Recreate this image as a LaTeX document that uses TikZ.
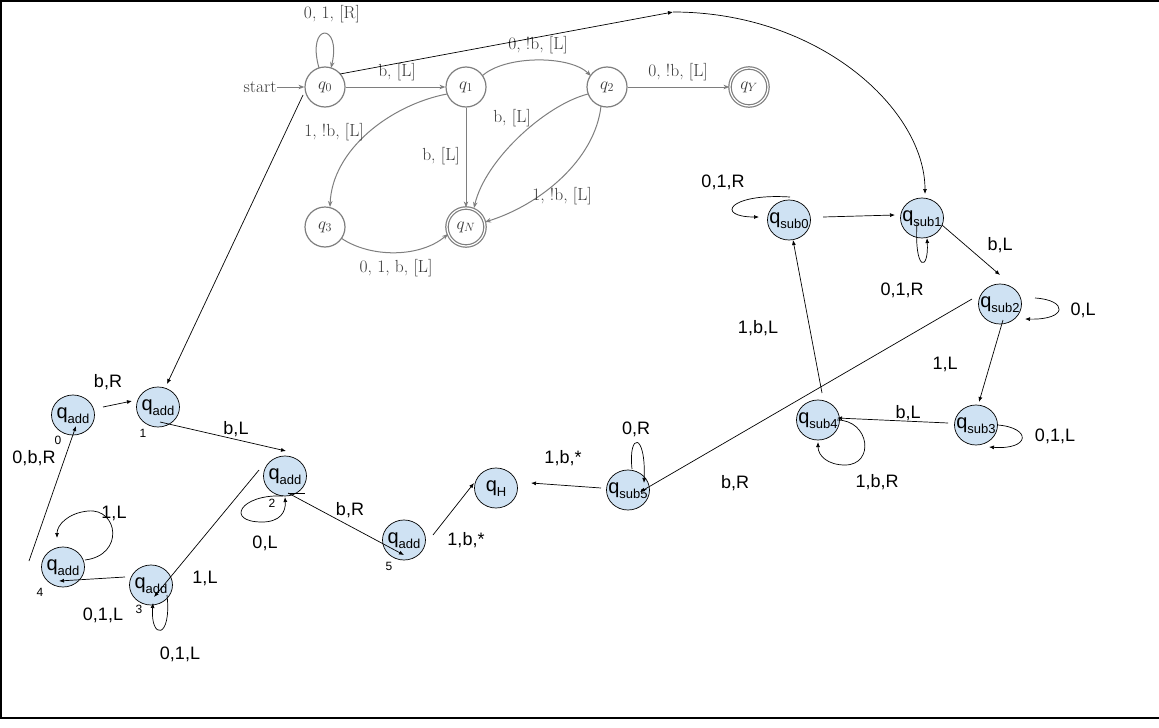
\documentclass[tikz,border=0pt]{standalone}
\usepackage{fontspec}
\newfontfamily\arial{Liberation Sans}
\usetikzlibrary{arrows.meta,calc,shapes.geometric}
\definecolor{nodeblue}{HTML}{CFE2F3}
\definecolor{tgray}{HTML}{7E7E7E}
\definecolor{ttext}{HTML}{383838}
\newcommand\qlab[1]{\makebox[0pt]{\smash{\raisebox{-3pt}{\arial\fontsize{20}{20}\selectfont q\raisebox{-5pt}{\fontsize{13}{13}\selectfont #1}}}}}
\begin{document}
\begin{tikzpicture}[x=1pt,y=-1pt,
 tstate/.style={circle,draw=tgray,line width=1.2pt,minimum size=40pt,inner sep=0pt,text=ttext,font=\fontsize{17.5}{19}\selectfont},
 tacc/.style={tstate,double=white,double distance=1.2pt,minimum size=38pt},
 tedge/.style={draw=tgray,line width=1pt,-{Stealth[length=6pt,width=4.5pt]}},
 tlab/.style={text=ttext,font=\fontsize{17.5}{19}\selectfont,inner sep=0pt},
 bstate/.style={ellipse,draw=black,line width=0.7pt,fill=nodeblue,minimum width=43pt,minimum height=40pt,inner sep=0pt},
 barr/.style={draw=black,line width=0.7pt,-{Latex[length=5pt,width=4pt]}},
 blab/.style={font=\arial\fontsize{18}{18}\selectfont,inner sep=0pt},
 bnum/.style={font=\arial\fontsize{12}{12}\selectfont,inner sep=0pt}
]
\useasboundingbox (0,0) rectangle (1159,728);
\draw[line width=1.6pt] (1159,1) -- (1,1) -- (1,718) -- (1159,718);

% ---------- top automaton ----------
\node[tstate] (q0) at (325,87) {$q_0$};
\node[tstate] (q1) at (466,87) {$q_1$};
\node[tstate] (q2) at (607,87) {$q_2$};
\node[tacc] (qY) at (749,87) {$q_Y$};
\node[tstate] (q3) at (325,227) {$q_3$};
\node[tacc] (qN) at (466,227) {$q_N$};
\node[tlab] (start) at (260,87) {start};

\draw[tedge] (start) -- (q0);
\draw[tedge] ($(q0)+(-6,-19)$) .. controls (306,22) and (342,22) .. ($(q0)+(6,-19)$);
\draw[tedge] (q0) -- (q1);
\draw[tedge] ($(q1)+(16,-11)$) .. controls (505,55) and (570,55) .. ($(q2)+(-16,-11)$);
\draw[tedge] (q2) -- (qY);
\draw[tedge] ($(q1)+(-19,7)$) .. controls (390,105) and (332,150) .. ($(q3)+(5,-20)$);
\draw[tedge] (q1) -- (qN);
\draw[tedge] ($(q2)+(-19,7)$) .. controls (545,105) and (485,160) .. ($(qN)+(8,-19)$);
\draw[tedge] ($(q2)+(-6,19)$) .. controls (595,160) and (540,205) .. ($(qN)+(19,-5)$);
\draw[tedge] ($(q3)+(16,11)$) .. controls (370,258) and (420,258) .. ($(qN)+(-18,7)$);

\node[tlab] (t1) at (332,14) {0, 1, [R]};
\node[tlab] (t2) at (397,72) {b, [L]};
\node[tlab] (t3) at (538,45) {0, !b, [L]};
\node[tlab] (t4) at (678,72) {0, !b, [L]};
\node[tlab] (t5) at (334,132) {1, !b, [L]};
\node[tlab] (t6) at (441,156) {b, [L]};
\node[tlab] (t7) at (512,118) {b, [L]};
\node[tlab] (t8) at (562,196) {1, !b, [L]};
\node[tlab] (t9) at (396,268) {0, 1, b, [L]};

% ---------- bottom machine ----------
\node[bstate] (qadd0) at (73,415) {\qlab{add}};
\node[bstate] (qadd1) at (158,407) {\qlab{add}};
\node[bstate] (qadd2) at (285,476) {\qlab{add}};
\node[bstate] (qadd3) at (151,585) {\qlab{add}};
\node[bstate] (qadd4) at (63,567) {\qlab{add}};
\node[bstate] (qadd5) at (404,540) {\qlab{add}};
\node[bstate] (qH) at (496,488) {\qlab{H}};
\node[bstate] (qsub5) at (628,490) {\qlab{sub5}};
\node[bstate] (qsub4) at (818,420) {\qlab{sub4}};
\node[bstate] (qsub3) at (976,425) {\qlab{sub3}};
\node[bstate] (qsub2) at (1000,304) {\qlab{sub2}};
\node[bstate] (qsub1) at (922,218) {\qlab{sub1}};
\node[bstate] (qsub0) at (789,220) {\qlab{sub0}};

\node[bnum] (n0) at (58,440) {0};
\node[bnum] (n1) at (143,433) {1};
\node[bnum] (n2) at (272,503) {2};
\node[bnum] (n3) at (139,609) {3};
\node[bnum] (n4) at (40,592) {4};
\node[bnum] (n5) at (389,566) {5};

\draw[barr] ($(qadd0)+(30,-8)$) -- ($(qadd1)+(-26,-6)$);
\draw[barr] ($(qadd1)+(2,15)$) -- ($(qadd2)+(1,-25)$);
\draw[barr] ($(q0)+(-22,8)$) -- ($(qadd1)+(9,-23)$);
\draw[barr] ($(qadd2)+(-2,20)$) .. controls (240,494) and (225,522) .. (262,522) .. controls (280,522) and (286,512) .. ($(qadd2)+(0,21)$);
\draw[barr] ($(qadd2)+(-26,-6)$) -- ($(qadd3)+(3,12)$);
\draw[barr] ($(qadd2)+(3,17)$) -- ($(qadd5)+(0,15)$);
\draw[line width=0.7pt] ($(qadd2)+(3,17)$) -- ($(qadd2)+(20,17)$);
\draw[barr] ($(qadd3)+(16,10)$) .. controls (172,640) and (150,640) .. ($(qadd3)+(2,18)$);
\draw[barr] ($(qadd3)+(-26,-8)$) -- ($(qadd4)+(-4,14)$);
\draw[barr] ($(qadd4)+(22,-7)$) .. controls (125,555) and (118,508) .. (88,511) .. controls (68,513) and (57,525) .. ($(qadd4)+(-6,-29)$);
\draw[barr] ($(qadd4)+(-34,-6)$) -- ($(qadd0)+(3,11)$);
\draw[barr] ($(qadd5)+(29,-5)$) -- ($(qH)+(-22,-5)$);
\draw[barr] ($(qsub5)+(-27,-2)$) -- ($(qH)+(35,-5)$);
\draw[barr] ($(qsub5)+(4,-21)$) .. controls (628,432) and (646,432) .. ($(qsub5)+(16,-7)$);
\draw[barr] ($(qsub2)+(-28,-5)$) -- ($(qsub5)+(12,2)$);
\draw[barr] ($(qsub4)+(19,0)$) .. controls (870,420) and (875,465) .. (845,465) .. controls (828,465) and (818,456) .. ($(qsub4)+(0,22)$);
\draw[barr] ($(qsub4)+(4,-27)$) -- ($(qsub0)+(4,20)$);
\draw[barr] ($(qsub3)+(-28,-2)$) -- ($(qsub4)+(19,-2)$);
\draw[barr] ($(qsub3)+(22,0)$) .. controls (1032,428) and (1030,450) .. ($(qsub3)+(13,22)$);
\draw[barr] ($(qsub2)+(3,16)$) -- ($(qsub3)+(3,-23)$);
\draw[barr] ($(qsub2)+(35,-6)$) .. controls (1068,300) and (1068,320) .. ($(qsub2)+(25,15)$);
\draw[barr] ($(qsub1)+(20,7)$) -- ($(qsub2)+(0,-29)$);
\draw[barr] ($(qsub1)+(-5,5)$) .. controls (914,272) and (929,272) .. ($(qsub1)+(5,20)$);
\draw[barr] ($(qsub0)+(34,-3)$) -- ($(qsub1)+(-27,-3)$);
\draw[barr] ($(qsub0)+(1,-23)$) .. controls (728,193) and (715,217) .. ($(qsub0)+(-30,-3)$);
\coordinate (top) at (673,12);
\draw[barr] ($(q0)+(15,-13)$) -- (top);
\draw[barr] (top) .. controls (820,12) and (925,110) .. ($(qsub1)+(3,-24)$);

\node[blab] (l1) at (108,382) {b,R};
\node[blab] (l2) at (236,429) {b,L};
\node[blab] (l3) at (34,458) {0,b,R};
\node[blab] (l4) at (114,513) {1,L};
\node[blab] (l5) at (265,543) {0,L};
\node[blab] (l6) at (205,578) {1,L};
\node[blab] (l7) at (103,615) {0,1,L};
\node[blab] (l8) at (180,654) {0,1,L};
\node[blab] (l9) at (350,510) {b,R};
\node[blab] (l10) at (466,540) {1,b,*};
\node[blab] (l11) at (563,458) {1,b,*};
\node[blab] (l12) at (636,429) {0,R};
\node[blab] (l13) at (735,483) {b,R};
\node[blab] (l14) at (877,482) {1,b,R};
\node[blab] (l15) at (908,413) {b,L};
\node[blab] (l16) at (1055,436) {0,1,L};
\node[blab] (l17) at (945,364) {1,L};
\node[blab] (l18) at (1083,310) {0,L};
\node[blab] (l19) at (758,328) {1,b,L};
\node[blab] (l20) at (902,290) {0,1,R};
\node[blab] (l21) at (1000,245) {b,L};
\node[blab] (l22) at (723,182) {0,1,R};
\end{tikzpicture}
\end{document}
